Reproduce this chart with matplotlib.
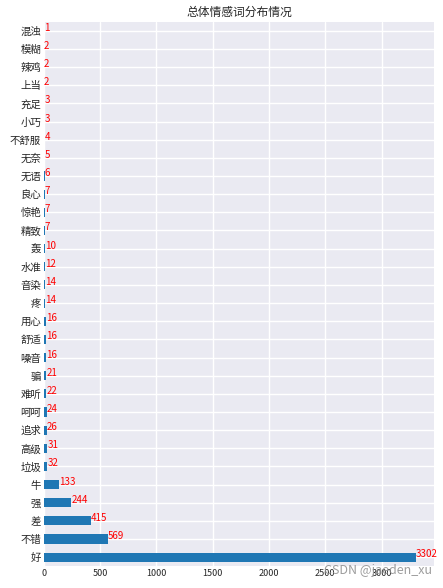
import matplotlib
matplotlib.use("Agg")
import matplotlib.pyplot as plt
import pandas as pd

words = ["混浊", "模糊", "辣鸡", "上当", "充足", "小巧", "不舒服", "无奈", "无语", "良心",
         "惊艳", "精致", "轰", "水准", "音染", "疼", "用心", "舒适", "噪音", "骗",
         "难听", "呵呵", "追求", "高级", "垃圾", "牛", "强", "差", "不错", "好"]
counts = [1, 2, 2, 2, 3, 3, 4, 5, 6, 7,
          7, 7, 10, 12, 14, 14, 16, 16, 16, 21,
          22, 24, 26, 31, 32, 133, 244, 415, 569, 3302]

# plot from bottom (largest) to top (smallest)
s = pd.Series(counts[::-1], index=words[::-1])

plt.style.use("seaborn-v0_8")
plt.rcParams["font.family"] = ["Noto Sans CJK SC", "DejaVu Sans"]
plt.rcParams["axes.unicode_minus"] = False

fig = plt.figure(figsize=(4.43, 5.88), dpi=100)
ax = fig.add_axes([0.099, 0.037, 0.881, 0.926])

s.plot(kind="barh", ax=ax, color="#1f77b4")

for i, v in enumerate(s.values):
    ax.text(v, i, str(v), color="red", fontsize=7, ha="left", va="baseline")

ax.set_title("总体情感词分布情况", fontsize=8.5, pad=4)
ax.tick_params(axis="x", labelsize=6.5, pad=2)
ax.tick_params(axis="y", labelsize=7.5, pad=2)

fig.text(0.975, 0.03, "CSDN @jaeden_xu", ha="right", va="center",
         fontsize=9, color="#8c8c8c", alpha=0.85)

fig.savefig("out.png", dpi=100)
